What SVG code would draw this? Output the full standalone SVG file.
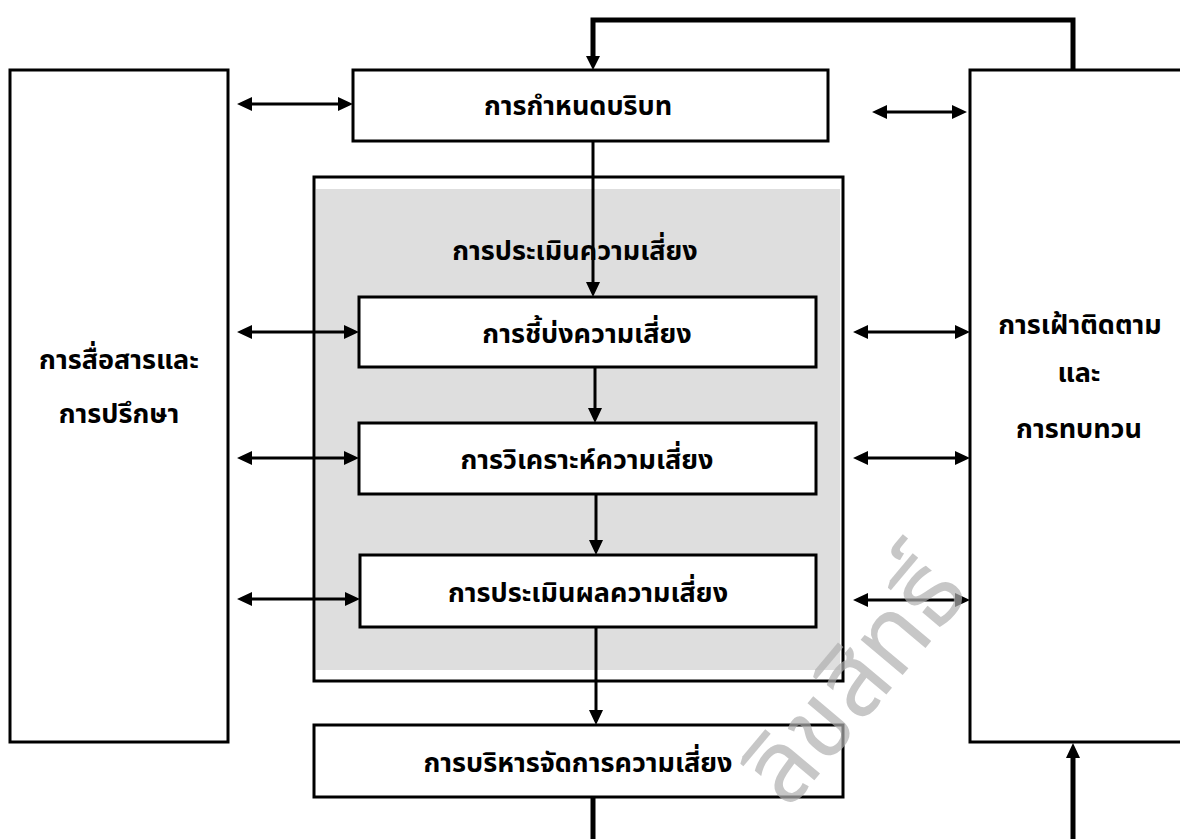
<svg xmlns="http://www.w3.org/2000/svg" width="1180" height="839" viewBox="0 0 1180 839">
<style>
.box{fill:#fff;stroke:#000;stroke-width:3}
.t{font-family:"Noto Sans Thai","Tahoma","DejaVu Sans","Noto Sans",sans-serif;font-size:27px;font-weight:bold;text-anchor:middle;fill:#000}
.c{stroke:#000;stroke-width:3;fill:none}
.ck{stroke:#000;stroke-width:5;fill:none}
</style>
<rect width="1180" height="839" fill="#fff"/>

<g id="assessment-group">
<rect x="314" y="177" width="529" height="504" fill="#fff" stroke="#000" stroke-width="3"/>
<rect x="316" y="189" width="524" height="481" fill="#dedede"/>
<text class="t" x="575" y="260">การประเมินความเสี่ยง</text>
</g>

<g id="communication">
<rect class="box" x="10" y="70" width="218" height="672"/>
<text class="t" x="119" y="369">การสื่อสารและ</text>
<text class="t" x="119" y="423">การปรึกษา</text>
</g>

<g id="monitoring">
<rect class="box" x="970" y="70" width="230" height="672"/>
<text class="t" x="1080" y="334">การเฝ้าติดตาม</text>
<text class="t" x="1079" y="382">และ</text>
<text class="t" x="1079" y="438">การทบทวน</text>
</g>

<g id="context">
<rect class="box" x="353" y="70" width="475" height="71"/>
<text class="t" x="578" y="115">การกำหนดบริบท</text>
</g>

<g id="identification">
<rect class="box" x="359" y="297" width="457" height="70"/>
<text class="t" x="587" y="343">การชี้บ่งความเสี่ยง</text>
</g>

<g id="analysis">
<rect class="box" x="359" y="423" width="457" height="71"/>
<text class="t" x="587" y="469">การวิเคราะห์ความเสี่ยง</text>
</g>

<g id="evaluation">
<rect class="box" x="360" y="555" width="456" height="72"/>
<text class="t" x="588" y="602">การประเมินผลความเสี่ยง</text>
</g>

<g id="treatment">
<rect class="box" x="314" y="725" width="529" height="72"/>
<text class="t" x="578" y="772">การบริหารจัดการความเสี่ยง</text>
</g>

<g id="connectors">
<path class="ck" d="M1073,70 V20 H593 V58"/>
<path d="M586,56 L600,56 L593,70 Z" fill="#000"/>
<path class="c" d="M593,141 V284"/>
<path d="M586,282 L600,282 L593,297 Z" fill="#000"/>
<path class="c" d="M595,367 V410"/>
<path d="M588,408 L602,408 L595,423 Z" fill="#000"/>
<path class="c" d="M596,494 V542"/>
<path d="M589,540 L603,540 L596,555 Z" fill="#000"/>
<path class="c" d="M596,627 V712"/>
<path d="M589,710 L603,710 L596,725 Z" fill="#000"/>
<path class="ck" d="M593,797 V845"/>
<path class="ck" d="M1073,845 V756"/>
<path d="M1066,758 L1080,758 L1073,743 Z" fill="#000"/>

<path class="c" d="M250,104 H340"/>
<path d="M252,97 L252,111 L237,104 Z M338,97 L338,111 L353,104 Z" fill="#000"/>
<path class="c" d="M885,112 H954"/>
<path d="M887,105 L887,119 L872,112 Z M952,105 L952,119 L967,112 Z" fill="#000"/>

<path class="c" d="M250,332 H346"/>
<path d="M252,325 L252,339 L237,332 Z M344,325 L344,339 L359,332 Z" fill="#000"/>
<path class="c" d="M866,332 H957"/>
<path d="M868,325 L868,339 L853,332 Z M955,325 L955,339 L970,332 Z" fill="#000"/>

<path class="c" d="M250,458 H346"/>
<path d="M252,451 L252,465 L237,458 Z M344,451 L344,465 L359,458 Z" fill="#000"/>
<path class="c" d="M866,458 H957"/>
<path d="M868,451 L868,465 L853,458 Z M955,451 L955,465 L970,458 Z" fill="#000"/>

<path class="c" d="M250,599 H347"/>
<path d="M252,592 L252,606 L237,599 Z M345,592 L345,606 L360,599 Z" fill="#000"/>
<path class="c" d="M866,600 H957"/>
<path d="M868,593 L868,607 L853,600 Z M955,593 L955,607 L970,600 Z" fill="#000"/>
</g>

<g id="watermark" opacity="0.7">
<text x="0" y="0" text-anchor="middle" transform="translate(880,702) rotate(-50)" font-family="Noto Sans Thai,Tahoma,DejaVu Sans,sans-serif" font-size="100" font-weight="normal" fill="#b0b0b0">ลิขสิทธิ์</text>
</g>
</svg>
